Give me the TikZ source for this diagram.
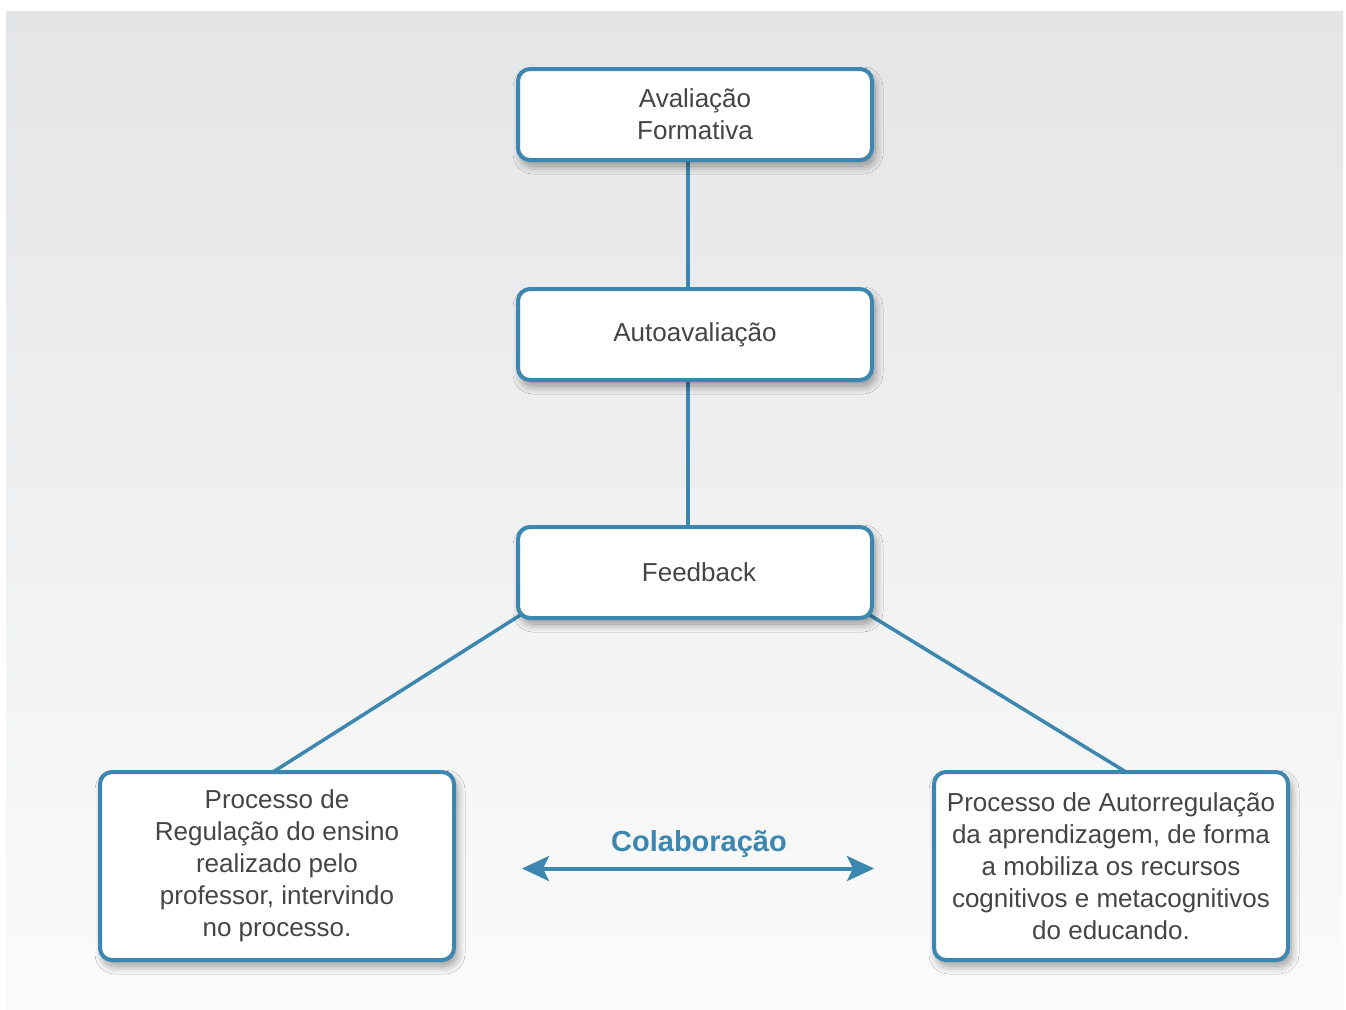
\documentclass[tikz,border=0pt]{standalone}
\usepackage{fontspec}
\setmainfont{Liberation Sans}
\usetikzlibrary{arrows.meta,shadows.blur}
\definecolor{frameblue}{HTML}{3C87B0}
\definecolor{bodytext}{HTML}{454545}
\definecolor{bgtop}{HTML}{E4E5E7}
\definecolor{bgbottom}{HTML}{FBFBFB}
\tikzset{
  box/.style={draw=frameblue, line width=4pt, fill=white, rounded corners=12pt,
    minimum width=354pt, inner sep=0pt, align=center, text=bodytext,
    font=\fontsize{26}{32}\selectfont,
    blur shadow={shadow xshift=3pt, shadow yshift=-6pt, shadow blur steps=12,
      shadow blur radius=8pt, shadow opacity=40}},
  smallbox/.style={box, minimum height=91pt},
  tallbox/.style={box, minimum height=188pt},
  link/.style={draw=frameblue, line width=3.5pt},
}
\begin{document}
\begin{tikzpicture}[x=1pt,y=-1pt]
  \useasboundingbox (0,0) rectangle (1346,1009);
  % page background
  \fill[white] (0,0) rectangle (1346,1009);
  \shade[top color=bgtop, bottom color=bgbottom] (6,11) rectangle (1343,1009);

  % connectors (drawn first so boxes cover their ends)
  \coordinate (v1a) at (688,160);
  \coordinate (v1b) at (688,290);
  \coordinate (v2a) at (688,380);
  \coordinate (v2b) at (688,528);
  \coordinate (dla) at (522,614);
  \coordinate (dlb) at (273,772);
  \coordinate (dra) at (868,614);
  \coordinate (drb) at (1126,772);
  \draw[link] (v1a) -- (v1b);
  \draw[link] (v2a) -- (v2b);
  \draw[link] (dla) -- (dlb);
  \draw[link] (dra) -- (drb);

  % boxes
  \node[smallbox] (formativa) at (695,114.5) {Avaliação\\Formativa};
  \node[smallbox] (auto) at (695,334.5) {Autoavaliação};
  \node[smallbox] (feedback) at (695,572.5) {\hspace*{8pt}Feedback};
  \node[tallbox] (regulacao) at (277,866) {Processo de\\Regulação do ensino\\realizado pelo\\professor, intervindo\\no processo.};
  \node[tallbox] (autorreg) at (1111,866) {Processo de Autorregulação\\da aprendizagem, de forma\\a mobiliza os recursos\\cognitivos e metacognitivos\\do educando.};

  % collaboration arrow
  \coordinate (colL) at (522,868.5);
  \coordinate (colR) at (874,868.5);
  \draw[draw=frameblue, line width=4pt,
    arrows={Stealth[length=27pt,width=25pt,inset=6pt]-Stealth[length=27pt,width=25pt,inset=6pt]}]
    (colL) -- (colR);
  \node[text=frameblue, font=\fontsize{29}{34}\selectfont\bfseries] (colab) at (699,844) {Colaboração};
\end{tikzpicture}
\end{document}
